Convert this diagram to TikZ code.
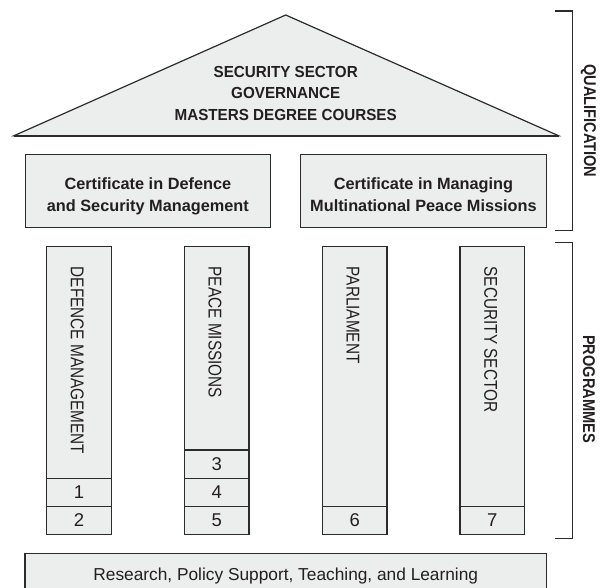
\documentclass[tikz,border=0pt]{standalone}
\usepackage{fontspec}
\setmainfont{Liberation Sans}
\newfontfamily\colfont[FakeStretch=0.83]{Liberation Sans}
\newfontfamily\titlefont[FakeStretch=0.95]{Liberation Sans}
\newfontfamily\sidefont[FakeStretch=0.86]{Liberation Sans}
\definecolor{boxfill}{HTML}{ECEDED}
\definecolor{ink}{HTML}{2B2B2B}
\definecolor{txt}{HTML}{231F20}
\tikzset{
  boxshape/.style={draw=ink, fill=boxfill, line width=1.3pt, inner sep=0pt, outer sep=0pt, rectangle},
  colbox/.style={boxshape, anchor=north west, minimum width=64.5pt},
  numbox/.style={colbox, minimum height=28.15pt, text=txt, font=\fontsize{18.5}{20}\selectfont},
  coltext/.style={anchor=base west, rotate=-90, inner sep=0pt, text=txt, font=\colfont\fontsize{18.5}{20}\selectfont},
  titletext/.style={anchor=base, inner sep=0pt, text=txt, font=\titlefont\bfseries\fontsize{16}{18}\selectfont},
  certtext/.style={anchor=base, inner sep=0pt, text=txt, font=\bfseries\fontsize{16.3}{18}\selectfont},
  sidetext/.style={anchor=center, rotate=-90, inner sep=0pt, text=txt, font=\sidefont\bfseries\fontsize{17}{19}\selectfont},
  bracket/.style={draw=ink, line width=1.3pt},
}
\begin{document}
\begin{tikzpicture}[x=1pt, y=-1pt]
\useasboundingbox (0,0) rectangle (608,587);
\clip (0,0) rectangle (608,587);
\fill[white] (0,0) rectangle (608,587);

% roof
\filldraw[fill=boxfill, draw=ink, line width=1.2pt, line join=miter] (14,135.7) -- (285.7,15) -- (558.5,135.7) -- cycle;
\draw[ink, line width=2pt] (14,135.7) -- (558.5,135.7);
\node[titletext] (t1) at (285.7,77.7) {SECURITY SECTOR};
\node[titletext] (t2) at (285.7,98.6) {GOVERNANCE};
\node[titletext] (t3) at (285.7,120) {MASTERS DEGREE COURSES};

% certificates
\node[boxshape, anchor=north west, minimum width=245.3pt, minimum height=73.4pt] (cert1) at (25.2,154.3) {};
\node[certtext] (c1a) at (cert1.center |- 0,189.3) {Certificate in Defence};
\node[certtext] (c1b) at (cert1.center |- 0,211) {and Security Management};
\node[boxshape, anchor=north west, minimum width=246.1pt, minimum height=73.4pt] (cert2) at (300.4,154.3) {};
\node[certtext] (c2a) at (cert2.center |- 0,189.3) {Certificate in Managing};
\node[certtext] (c2b) at (cert2.center |- 0,211) {Multinational Peace Missions};

% columns
\node[colbox, minimum height=231.5pt] (col1) at (46.7,246.7) {};
\node[numbox] (n1) at (46.7,478.2) {1};
\node[numbox] (n2) at (46.7,506.35) {2};
\node[coltext] (l1) at (70.9,266.5) {DEFENCE MANAGEMENT};

\node[colbox, minimum height=203.3pt] (col2) at (184.5,246.7) {};
\node[numbox] (n3) at (184.5,450.05) {3};
\node[numbox] (n4) at (184.5,478.2) {4};
\node[numbox] (n5) at (184.5,506.35) {5};
\node[coltext] (l2) at (208.7,266.5) {PEACE MISSIONS};

\node[colbox, minimum height=259.65pt] (col3) at (322.5,246.7) {};
\node[numbox] (n6) at (322.5,506.35) {6};
\node[coltext] (l3) at (346.7,266.5) {PARLIAMENT};

\node[colbox, minimum height=259.65pt] (col4) at (460.1,246.7) {};
\node[numbox] (n7) at (460.1,506.35) {7};
\node[coltext] (l4) at (484.3,266.5) {SECURITY SECTOR};

% foundation
\node[boxshape, anchor=north west, minimum width=521.5pt, minimum height=60pt] (base) at (25,553.3) {};
\node[anchor=base, inner sep=0pt, text=txt, font=\fontsize{17.3}{19}\selectfont] (basetext) at (285.8,580) {Research, Policy Support, Teaching, and Learning};

% brackets
\draw[bracket] (555.4,11) -- (572.3,11) -- (572.3,230.7) -- (555.4,230.7);
\node[sidetext] (q) at (588.5,120.8) {QUALIFICATION};
\draw[bracket] (555.4,242.7) -- (572.3,242.7) -- (572.3,538.7) -- (555.4,538.7);
\node[sidetext] (p) at (589,389.2) {PROGRAMMES};
\end{tikzpicture}
\end{document}
